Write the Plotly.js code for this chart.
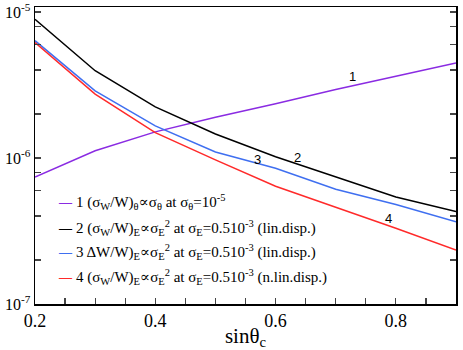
<!DOCTYPE html>
<html>
<head>
<meta charset="utf-8">
<script src="https://cdn.plot.ly/plotly-3.0.1.min.js"></script>
<style>
  body { margin: 0; background: white; }
  #graph { width: 463px; height: 350px; }
</style>
</head>
<body>
<div id="graph"></div>
<script>
// Datos
var sinTheta = [0.2, 0.3, 0.4, 0.5, 0.6, 0.7, 0.8, 0.9];
var curva1 = [7.4e-7, 1.12e-6, 1.51e-6, 1.9e-6, 2.35e-6, 2.94e-6, 3.63e-6, 4.48e-6];
var curva2 = [8.9e-6, 3.96e-6, 2.24e-6, 1.46e-6, 1.02e-6, 7.4e-7, 5.4e-7, 4.3e-7];
var curva3 = [6.36e-6, 2.88e-6, 1.66e-6, 1.10e-6, 8.5e-7, 6.1e-7, 4.8e-7, 3.66e-7];
var curva4 = [6.17e-6, 2.74e-6, 1.49e-6, 9.7e-7, 6.4e-7, 4.6e-7, 3.3e-7, 2.34e-7];

var colores = ['#8a2be2', '#000000', '#3f6ff0', '#ff2a2a'];
var nombres = [
    '1 (σ<sub>W</sub>/W)<sub>θ</sub>∝σ<sub>θ</sub> at σ<sub>θ</sub>=10<sup>-5</sup>',
    '2 (σ<sub>W</sub>/W)<sub>E</sub>∝σ<sub>E</sub><sup>2</sup> at σ<sub>E</sub>=0.510<sup>-3</sup> (lin.disp.)',
    '3 ΔW/W)<sub>E</sub>∝σ<sub>E</sub><sup>2</sup> at σ<sub>E</sub>=0.510<sup>-3</sup> (lin.disp.)',
    '4 (σ<sub>W</sub>/W)<sub>E</sub>∝σ<sub>E</sub><sup>2</sup> at σ<sub>E</sub>=0.510<sup>-3</sup> (n.lin.disp.)'
];

// Etiquetas de los ejes
var xTickVals = [0.2, 0.25, 0.3, 0.35, 0.4, 0.45, 0.5, 0.55, 0.6, 0.65, 0.7, 0.75, 0.8, 0.85, 0.9];
var xTickText = ['0.2', '', '', '', '0.4', '', '', '', '0.6', '', '', '', '0.8', '', ''];
var yTickVals = [1e-7, 2e-7, 4e-7, 6e-7, 8e-7, 1e-6, 2e-6, 4e-6, 6e-6, 8e-6, 1e-5];
var yTickText = ['10<sup>-7</sup>', '', '', '', '', '10<sup>-6</sup>', '', '', '', '', '10<sup>-5</sup>'];

// Etiquetas numericas sobre las curvas
var etiquetas = ['1', '2', '3', '4'];
var etiqX = [0.728, 0.636, 0.57, 0.787];
var etiqY = [3.59e-6, 1.0e-6, 9.7e-7, 3.88e-7];

var serif = '"Liberation Serif", "Times New Roman", "DejaVu Serif", serif';

var series = [curva1, curva2, curva3, curva4];
var data = [];
for (var i = 0; i < series.length; i++) {
    data.push({
        x: sinTheta,
        y: series[i],
        mode: 'lines',
        name: nombres[i],
        line: { color: colores[i], width: 1.5 },
        showlegend: false
    });
}

var annotations = [];
// Leyenda hecha a mano: guion de color + texto
var legY = [0.344, 0.256, 0.176, 0.092];
for (var i = 0; i < nombres.length; i++) {
    annotations.push({
        xref: 'paper', yref: 'paper',
        x: 0.05, y: legY[i],
        xanchor: 'left', yanchor: 'middle',
        showarrow: false,
        text: '<b>—</b>',
        font: { family: serif, size: 13, color: colores[i] }
    });
    annotations.push({
        xref: 'paper', yref: 'paper',
        x: 0.093, y: legY[i],
        xanchor: 'left', yanchor: 'middle',
        showarrow: false,
        text: nombres[i],
        font: { family: serif, size: 15, color: 'black' }
    });
}
for (var i = 0; i < etiquetas.length; i++) {
    annotations.push({
        xref: 'x', yref: 'y',
        x: etiqX[i], y: Math.log10(etiqY[i]),
        showarrow: false,
        text: etiquetas[i],
        font: { family: '"Liberation Sans", Arial, sans-serif', size: 13, color: 'black' }
    });
}

var layout = {
    width: 463,
    height: 350,
    margin: { l: 35, r: 7, t: 7, b: 46 },
    paper_bgcolor: 'white',
    plot_bgcolor: 'white',
    font: { family: serif, size: 17, color: 'black' },
    showlegend: false,
    xaxis: {
        range: [0.2, 0.9],
        tickmode: 'array',
        tickvals: xTickVals,
        ticktext: xTickText,
        ticks: 'inside',
        ticklen: 6,
        tickwidth: 1.2,
        showline: true,
        linewidth: 1.5,
        linecolor: 'black',
        mirror: true,
        showgrid: false,
        zeroline: false,
        tickfont: { family: serif, size: 18 },
        title: { text: 'sinθ<sub>c</sub>', font: { family: serif, size: 21 }, standoff: 2 }
    },
    xaxis2: {
        range: [0.2, 0.9],
        overlaying: 'x',
        side: 'top',
        anchor: 'y',
        tickmode: 'linear',
        tick0: 0.2,
        dtick: 0.1,
        ticks: 'inside',
        ticklen: 6,
        tickwidth: 1.2,
        showticklabels: false,
        showgrid: false,
        zeroline: false,
        minor: { dtick: 0.02, tick0: 0.2, ticks: 'inside', ticklen: 4, tickwidth: 1.2, showgrid: false }
    },
    yaxis: {
        type: 'log',
        range: [-7, -4.966],
        tickmode: 'array',
        tickvals: yTickVals,
        ticktext: yTickText,
        ticks: 'inside',
        ticklen: 6,
        tickwidth: 1.2,
        showline: true,
        linewidth: 1.5,
        linecolor: 'black',
        mirror: 'ticks',
        showgrid: false,
        zeroline: false,
        tickfont: { family: serif, size: 16 }
    },
    annotations: annotations
};

var config = { staticPlot: true };
Plotly.newPlot('graph', data, layout, config);
</script>
</body>
</html>
